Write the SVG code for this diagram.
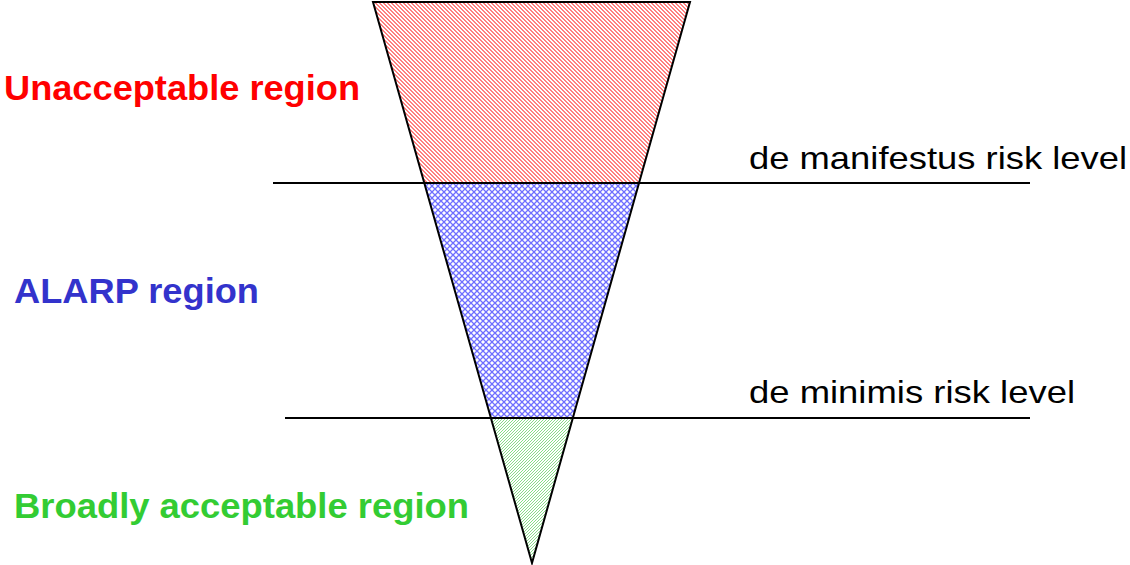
<svg xmlns="http://www.w3.org/2000/svg" width="1130" height="565" viewBox="0 0 1130 565">
  <style>
    .lbl { font-family: "Liberation Sans", Arial, sans-serif; font-weight: bold; font-size: 35px; }
    .lvl { font-family: "Liberation Sans", Arial, sans-serif; font-size: 32px; fill: #000; }
    .edge { stroke: #000; stroke-width: 2; fill: none; }
  </style>
  <defs>
    <pattern id="pRed" patternUnits="userSpaceOnUse" width="4" height="4">
      <rect width="4" height="4" fill="#fff"/>
      <rect x="0" y="0" width="2" height="1" fill="#ff8080"/>
      <rect x="1" y="1" width="2" height="1" fill="#ff8080"/>
      <rect x="2" y="2" width="2" height="1" fill="#ff8080"/>
      <rect x="3" y="3" width="1" height="1" fill="#ff8080"/>
      <rect x="0" y="3" width="1" height="1" fill="#ff8080"/>
    </pattern>
    <pattern id="pBlue" patternUnits="userSpaceOnUse" width="6" height="6">
      <rect width="6" height="6" fill="#fff"/>
      <path d="M0,0 L6,6 M6,0 L0,6" stroke="#6f6fff" stroke-width="1.3"/>
    </pattern>
    <pattern id="pGreen" patternUnits="userSpaceOnUse" width="3" height="3">
      <rect width="3" height="3" fill="#fff"/>
      <path d="M-1,1 L1,-1 M0,3 L3,0 M2,4 L4,2" stroke="#88dd88" stroke-width="1"/>
    </pattern>
  </defs>

  <g id="unacceptable-region">
    <polygon points="373,2 690,2 639,183 424.3,183" fill="url(#pRed)"/>
    <text class="lbl" x="4" y="100" fill="#ff0000" textLength="356" lengthAdjust="spacingAndGlyphs">Unacceptable region</text>
  </g>
  <g id="alarp-region">
    <polygon points="424.3,183 639,183 572.8,418 490.9,418" fill="url(#pBlue)"/>
    <text class="lbl" x="14" y="303" fill="#3333cc" textLength="245" lengthAdjust="spacingAndGlyphs">ALARP region</text>
  </g>
  <g id="broadly-acceptable-region">
    <polygon points="490.9,418 572.8,418 532,563" fill="url(#pGreen)"/>
    <text class="lbl" x="14" y="518" fill="#33cc33" textLength="455" lengthAdjust="spacingAndGlyphs">Broadly acceptable region</text>
  </g>

  <g id="connectors">
    <polygon class="edge" points="373,2 690,2 532,563"/>
    <line class="edge" x1="273" y1="183" x2="1030" y2="183"/>
    <line class="edge" x1="285" y1="418" x2="1030" y2="418"/>
  </g>

  <g id="de-manifestus-level">
    <text class="lvl" x="749" y="169" textLength="378" lengthAdjust="spacingAndGlyphs">de manifestus risk level</text>
  </g>
  <g id="de-minimis-level">
    <text class="lvl" x="749" y="403" textLength="326" lengthAdjust="spacingAndGlyphs">de minimis risk level</text>
  </g>
</svg>
